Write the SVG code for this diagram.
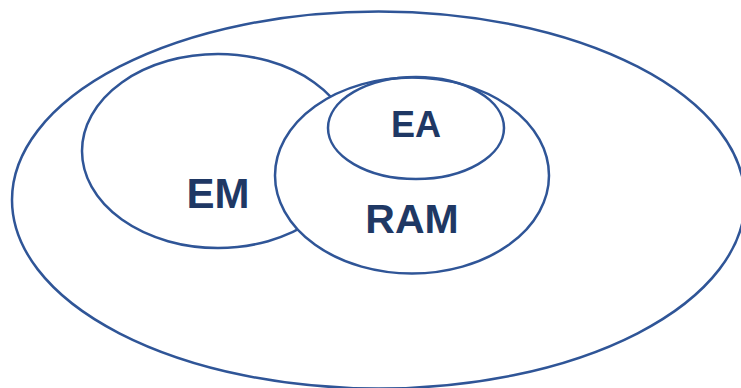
<svg xmlns="http://www.w3.org/2000/svg" width="741" height="388" viewBox="0 0 741 388">
<style>
.e{fill:#fff;stroke:#2f5597;stroke-width:2.5}
.t{font-family:"Liberation Sans",Arial,sans-serif;font-weight:bold;fill:#1f3864;text-anchor:middle}
</style>
<rect width="741" height="388" fill="#fff"/>
<g id="universe"><ellipse class="e" cx="378.5" cy="200" rx="366.5" ry="188.5"/></g>
<g id="em"><ellipse class="e" cx="218" cy="151" rx="136" ry="97"/><text class="t" x="218" y="208" font-size="42">EM</text></g>
<g id="ram"><ellipse class="e" cx="412" cy="175.5" rx="137" ry="98"/><text class="t" x="412" y="233" font-size="41">RAM</text></g>
<g id="ea"><ellipse class="e" cx="416" cy="128" rx="88" ry="51" style="fill:none"/><text class="t" x="416" y="137" font-size="36">EA</text></g>
<g id="connectors"/>
</svg>
